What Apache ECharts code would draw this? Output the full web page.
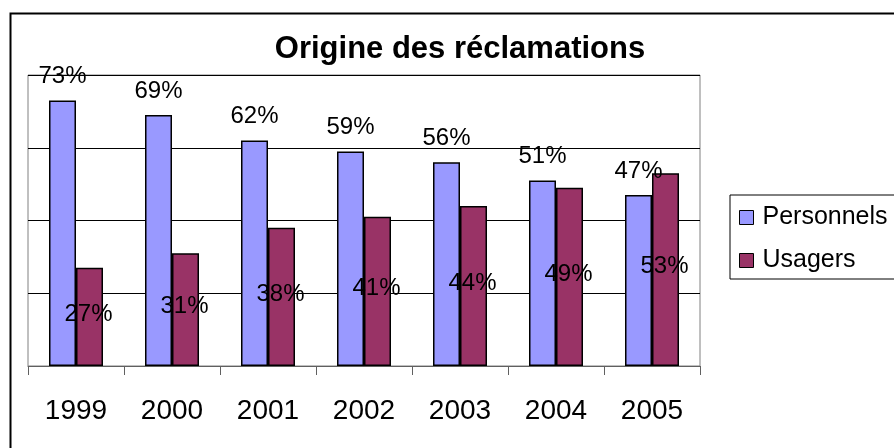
<!DOCTYPE html>
<html>
<head>
<meta charset="utf-8">
<script src="https://cdn.jsdelivr.net/npm/echarts@6/dist/echarts.min.js"></script>
<style>
html,body{margin:0;padding:0;background:#fff;}
#chart{width:894px;height:448px;}
</style>
</head>
<body>
<div id="chart"></div>
<script>
const categories = ['1999', '2000', '2001', '2002', '2003', '2004', '2005'];
const personnels = [73, 69, 62, 59, 56, 51, 47];
const usagers = [27, 31, 38, 41, 44, 49, 53];
const titleText = 'Origine des réclamations';
const seriesNames = ['Personnels', 'Usagers'];

const FONT = '"Liberation Sans", Arial, sans-serif';
const chart = echarts.init(document.getElementById('chart'), null, {renderer: 'canvas'});
chart.setOption({
  animation: false,
  backgroundColor: '#fff',
  title: {
    text: titleText,
    left: 460, top: 34, textAlign: 'center',
    padding: 0,
    textStyle: {fontFamily: FONT, fontSize: 31, fontWeight: 'bold', color: '#000'}
  },
  legend: {
    orient: 'vertical',
    left: 730, top: 195,
    padding: [10, 20, 6, 9],
    itemGap: 18,
    itemWidth: 14, itemHeight: 14,
    icon: 'rect',
    borderColor: '#000', borderWidth: 1,
    itemStyle: {borderColor: '#000', borderWidth: 1},
    textStyle: {fontFamily: FONT, fontSize: 25, color: '#000', padding: [0, 0, 0, 4]},
    data: seriesNames
  },
  grid: {
    left: 28, top: 75, width: 672, height: 291,
    show: true, borderColor: '#808080', borderWidth: 1,
    containLabel: false
  },
  xAxis: {
    type: 'category',
    data: categories,
    axisLine: {show: true, lineStyle: {color: '#606060', width: 1}},
    axisTick: {show: true, length: 9, alignWithLabel: false, lineStyle: {color: '#606060'}},
    axisLabel: {fontFamily: FONT, fontSize: 28, color: '#000', margin: 31}
  },
  yAxis: {
    type: 'value', min: 0, max: 80, interval: 20,
    axisLine: {show: false}, axisTick: {show: false}, axisLabel: {show: false},
    splitLine: {show: true, lineStyle: {color: '#000', width: 1}}
  },
  series: [
    {
      name: seriesNames[0], type: 'bar', data: personnels,
      barWidth: 27, barGap: '0%',
      itemStyle: {color: '#9999FF', borderColor: '#000', borderWidth: 1.5},
      label: {show: true, position: 'top', distance: 12, formatter: '{c}%',
        fontFamily: FONT, fontSize: 24, color: '#000'}
    },
    {
      name: seriesNames[1], type: 'bar', data: usagers,
      barWidth: 27,
      itemStyle: {color: '#993366', borderColor: '#000', borderWidth: 1.5},
      label: {show: true, position: 'inside', offset: [-1, -3], formatter: '{c}%',
        fontFamily: FONT, fontSize: 24, color: '#000'}
    }
  ],
  graphic: [{
    type: 'rect', left: 8, top: 11, z: 100, silent: true,
    shape: {width: 900, height: 460},
    style: {fill: null, stroke: '#000', lineWidth: 2}
  }]
});
</script>
</body>
</html>
